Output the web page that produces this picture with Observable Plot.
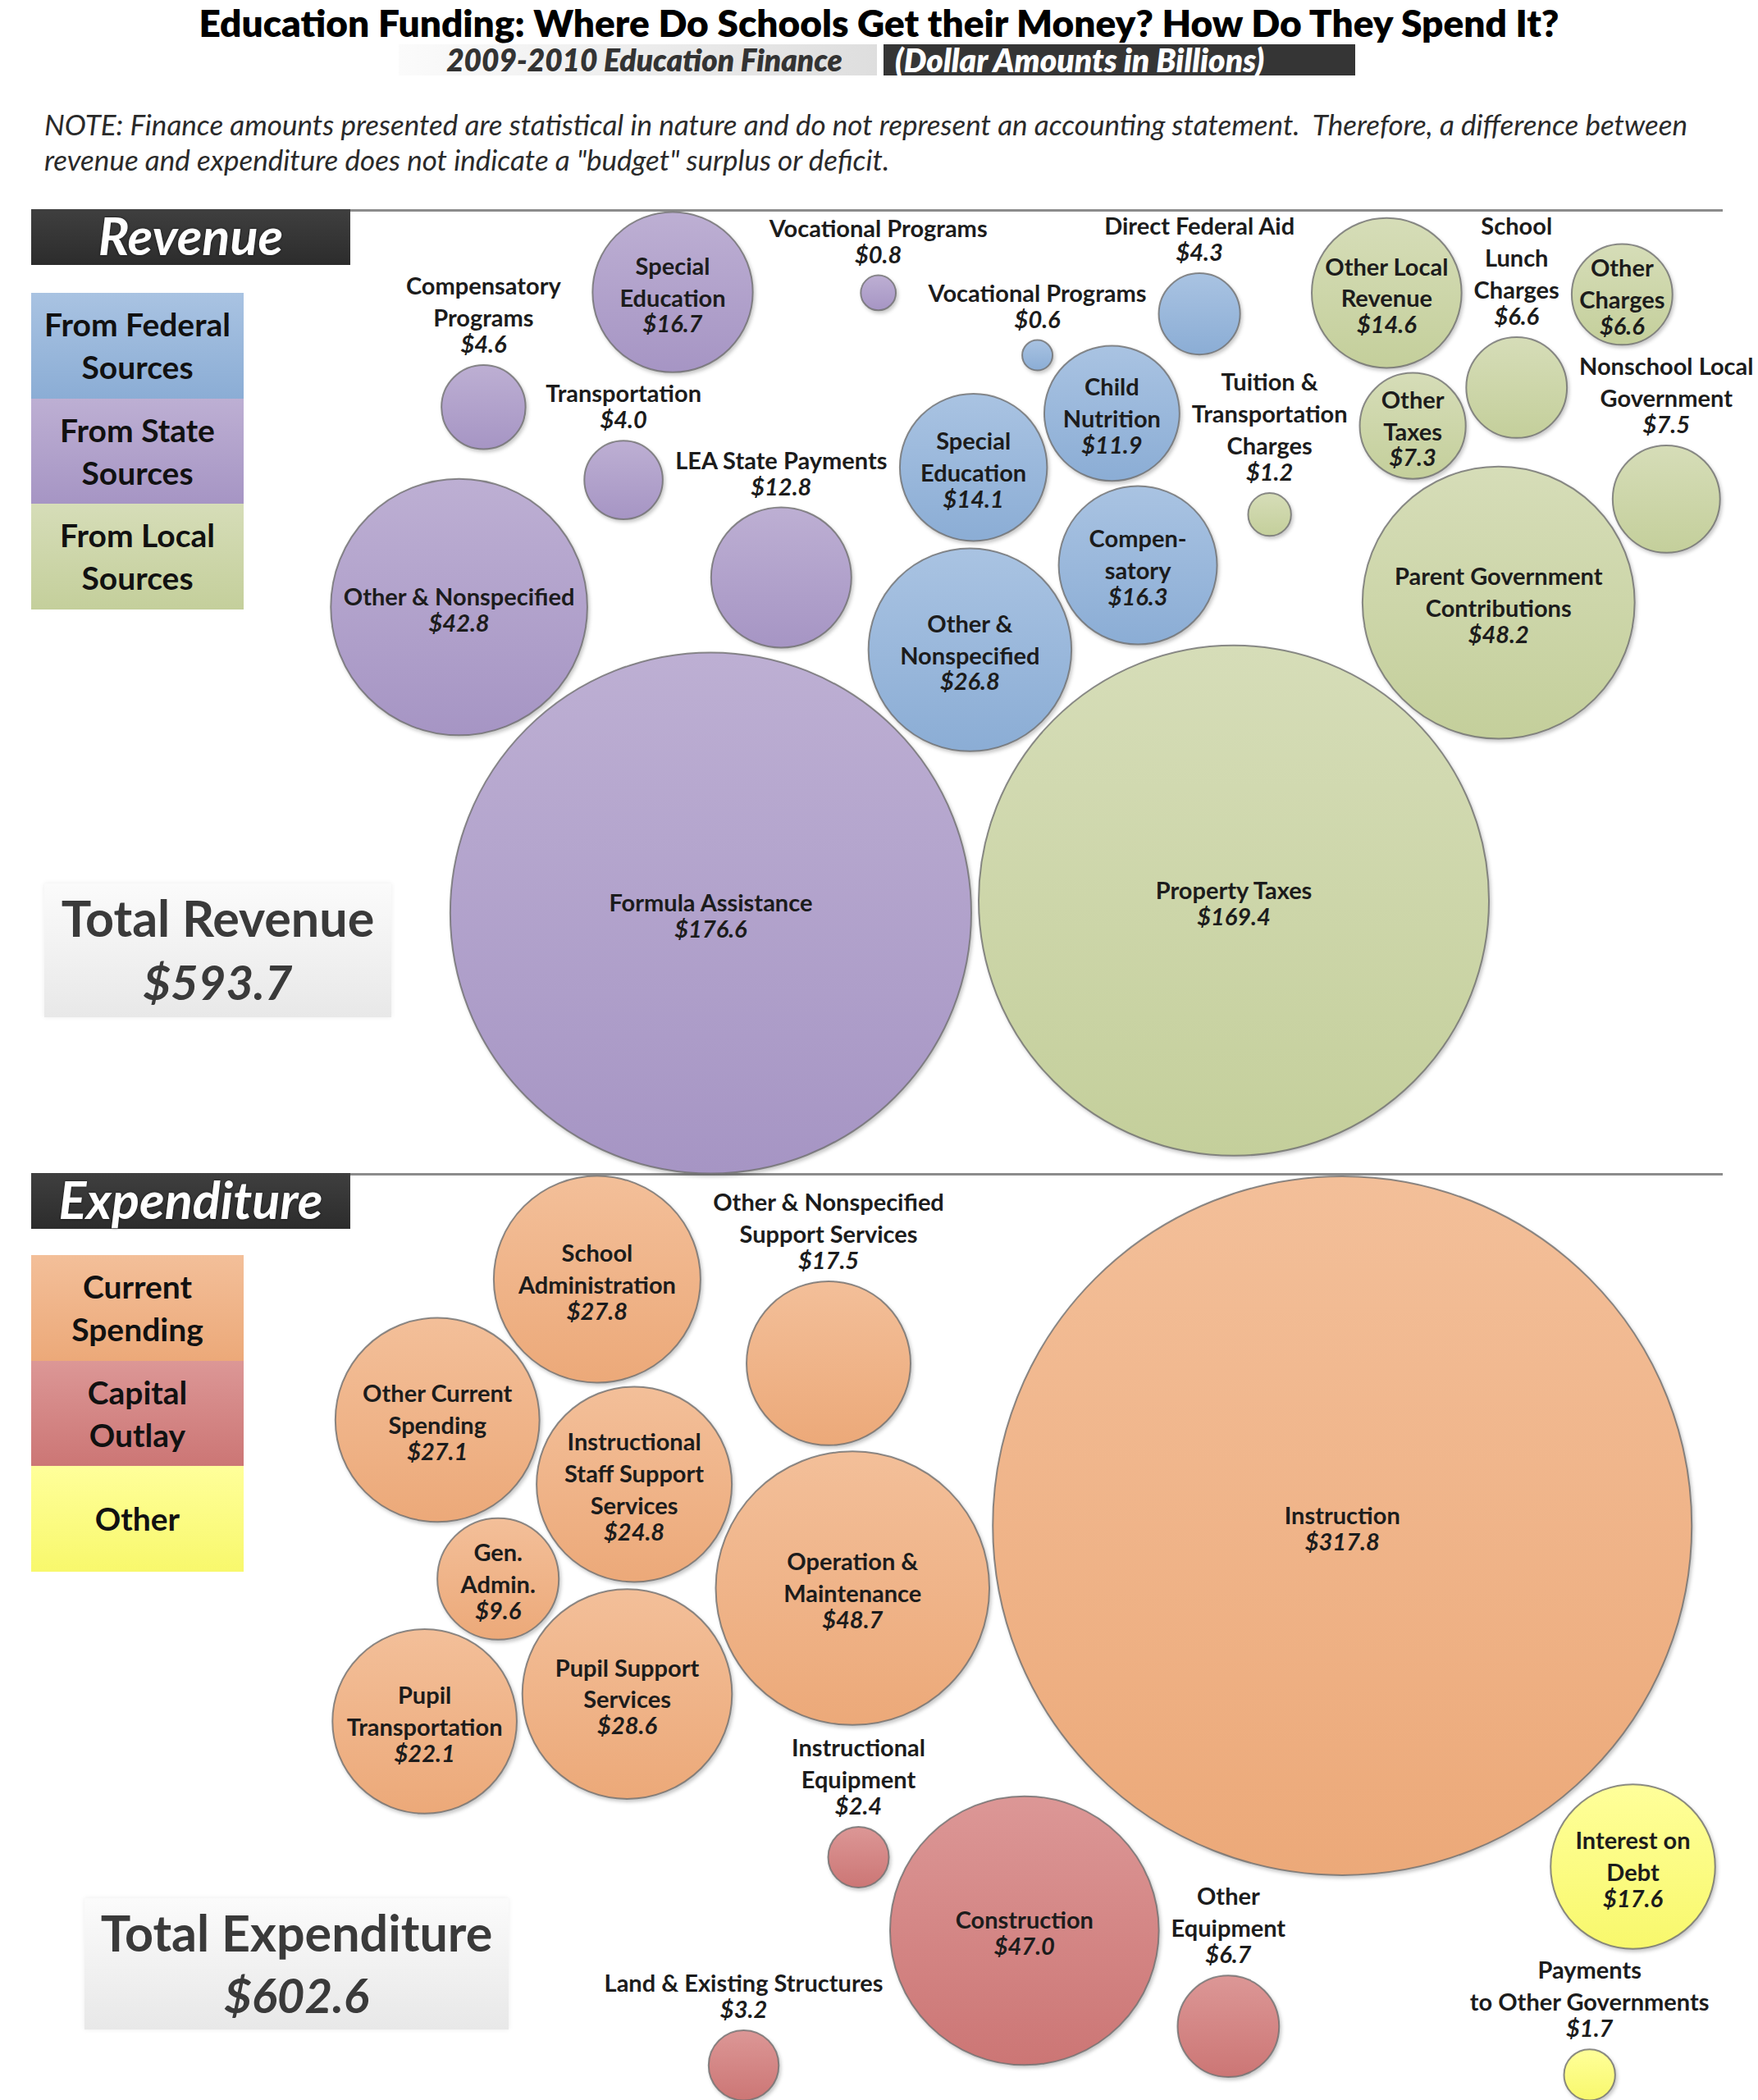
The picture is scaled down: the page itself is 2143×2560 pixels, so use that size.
<!DOCTYPE html>
<html><head><meta charset="utf-8">
<script src="https://cdn.jsdelivr.net/npm/d3@7"></script>
<script src="https://cdn.jsdelivr.net/npm/@observablehq/plot@0.6"></script>
<style>
body { margin:0; background:#fff; font-family: Lato, "Open Sans", sans-serif; }
#page { position:relative; width:2143px; height:2560px; overflow:hidden; background:#fff; }
.abs { position:absolute; }
#title { left:0; width:2143px; top:0px; text-align:center; font-weight:800; font-size:46px; color:#000; }
#sub1 { left:486px; top:54px; width:583px; height:38px; background:linear-gradient(to right,#fbfbfb,#dedede); color:#333; font-style:italic; font-weight:800; font-size:37px; line-height:38px; text-align:center; padding-left:16px; box-sizing:border-box; white-space:nowrap; }
#sub2 { left:1077px; top:54px; width:575px; height:38px; background:#353535; color:#fff; font-style:italic; font-weight:800; font-size:39px; line-height:38px; padding-left:14px; box-sizing:border-box; white-space:nowrap; }
#note { left:54px; top:130px; width:2080px; font-style:italic; font-size:35px; line-height:43px; color:#2a2a2a; white-space:nowrap; }
.rule { position:absolute; left:38px; width:2062px; height:3px; background:#8c8c8c; }
.hdr { position:absolute; left:38px; width:389px; height:68px; background:linear-gradient(#3f3f3f,#2c2c2c); color:#fff; font-style:italic; font-weight:bold; font-size:63px; line-height:64px; text-align:center; z-index:5; text-shadow:0 0 3px rgba(0,0,0,.7); }
.legend { position:absolute; left:38px; width:259px; z-index:5; }
.legend div { height:128.5px; display:flex; align-items:center; justify-content:center; text-align:center; font-weight:bold; font-size:39px; line-height:52px; color:#111; }
.total { position:absolute; z-index:5; background:linear-gradient(#fbfbfb,#e8e8e8); text-align:center; color:#3a3a3a; font-weight:bold; box-shadow:0 0 6px rgba(0,0,0,0.08); white-space:nowrap; }
.total .a { font-size:61px; }
.total .b { font-size:58px; font-style:italic; }
.sec { position:absolute; left:0; z-index:1; }
</style></head>
<body><div id="page">
<div id="title" class="abs">Education Funding: Where Do Schools Get their Money? How Do They Spend It?</div>
<div id="sub1" class="abs">2009-2010 Education Finance</div>
<div id="sub2" class="abs">(Dollar Amounts in Billions)</div>
<div id="note" class="abs">NOTE: Finance amounts presented are statistical in nature and do not represent an accounting statement.&nbsp; Therefore, a difference between<br>revenue and expenditure does not indicate a "budget" surplus or deficit.</div>
</div>
<script>
// ---------------- DATA ----------------
const revenueSourceNames = ["From Federal Sources", "From State Sources", "From Local Sources"];
const revenueNames = [
  "Formula Assistance", "Other & Nonspecified", "Special\nEducation", "LEA State Payments",
  "Compensatory\nPrograms", "Transportation", "Vocational Programs",
  "Other &\nNonspecified", "Compen-\nsatory", "Special\nEducation", "Child\nNutrition",
  "Direct Federal Aid", "Vocational Programs",
  "Property Taxes", "Parent Government\nContributions", "Other Local\nRevenue",
  "Nonschool Local\nGovernment", "Other\nTaxes", "Other\nCharges", "School\nLunch\nCharges",
  "Tuition &\nTransportation\nCharges"
];
const revenueValues = [176.6, 42.8, 16.7, 12.8, 4.6, 4.0, 0.8,
  26.8, 16.3, 14.1, 11.9, 4.3, 0.6,
  169.4, 48.2, 14.6, 7.5, 7.3, 6.6, 6.6, 1.2];
const revenueSources = [
  "From State Sources", "From State Sources", "From State Sources", "From State Sources",
  "From State Sources", "From State Sources", "From State Sources",
  "From Federal Sources", "From Federal Sources", "From Federal Sources", "From Federal Sources",
  "From Federal Sources", "From Federal Sources",
  "From Local Sources", "From Local Sources", "From Local Sources", "From Local Sources",
  "From Local Sources", "From Local Sources", "From Local Sources", "From Local Sources"
];

const expenditureTypeNames = ["Current Spending", "Capital Outlay", "Other"];
const expenditureNames = [
  "Instruction", "Operation &\nMaintenance", "Other Current\nSpending", "Pupil\nTransportation",
  "School\nAdministration", "Pupil Support\nServices", "Gen.\nAdmin.",
  "Other & Nonspecified\nSupport Services", "Instructional\nStaff Support\nServices",
  "Construction", "Land & Existing Structures", "Other\nEquipment", "Instructional\nEquipment",
  "Interest on\nDebt", "Payments\nto Other Governments"
];
const expenditureValues = [317.8, 48.7, 27.1, 22.1, 27.8, 28.6, 9.6, 17.5, 24.8,
  47.0, 3.2, 6.7, 2.4, 17.6, 1.7];
const expenditureTypes = [
  "Current Spending", "Current Spending", "Current Spending", "Current Spending",
  "Current Spending", "Current Spending", "Current Spending", "Current Spending", "Current Spending",
  "Capital Outlay", "Capital Outlay", "Capital Outlay", "Capital Outlay",
  "Other", "Other"
];

// ---------------- LAYOUT / STYLE ----------------
const W = 2143, FS = 29, LH = 39, GAP = 8, PAD = 9;
const FONT = "Lato, 'Open Sans', sans-serif";
const rOptions = {type: "sqrt", domain: [0, d3.max([...revenueValues, ...expenditureValues])], range: [0, 426]};
const rScale = Plot.scale({r: rOptions});
const ctx = document.createElement("canvas").getContext("2d");
function measure(s, italic) { ctx.font = `${italic ? "italic " : ""}bold ${FS}px Lato`; return ctx.measureText(s).width; }
const fmt = v => "$" + v.toFixed(1);

// shapes of a bubble: its circle, plus the label box above it when the label sits outside
function prims(n) {
  const a = [{t: "c", x: n.x, y: n.y, r: n.r}];
  if (!n.inside) a.push({t: "r", x0: n.x - n.w / 2 - 6, x1: n.x + n.w / 2 + 6, y0: n.y - n.r - GAP - n.h, y1: n.y - n.r - 2});
  return a;
}
function sepCC(p, q, pad) {
  let dx = q.x - p.x, dy = q.y - p.y, d = Math.hypot(dx, dy);
  const m = p.r + q.r + pad;
  if (d >= m) return null;
  if (d < 1e-6) { dx = 0.01; dy = 0.013; d = Math.hypot(dx, dy); }
  const s = (m - d) / d; return [dx * s, dy * s];
}
function sepCR(c, rc, pad) { // move box rc away from circle c
  const px = Math.max(rc.x0, Math.min(c.x, rc.x1)), py = Math.max(rc.y0, Math.min(c.y, rc.y1));
  let dx = px - c.x, dy = py - c.y, d = Math.hypot(dx, dy);
  const m = c.r + pad;
  if (d >= m) return null;
  if (d < 1e-6) {
    const opts = [[c.x + m - rc.x0, 0], [-(rc.x1 - (c.x - m)), 0], [0, c.y + m - rc.y0], [0, -(rc.y1 - (c.y - m))]];
    return opts.reduce((a, b) => Math.hypot(a[0], a[1]) <= Math.hypot(b[0], b[1]) ? a : b);
  }
  const s = (m - d) / d; return [dx * s, dy * s];
}
function sepRR(p, q, pad) {
  const ox = Math.min(p.x1, q.x1) - Math.max(p.x0, q.x0) + pad;
  const oy = Math.min(p.y1, q.y1) - Math.max(p.y0, q.y0) + pad;
  if (ox <= 0 || oy <= 0) return null;
  if (ox < oy) return [((q.x0 + q.x1) >= (p.x0 + p.x1) ? 1 : -1) * ox, 0];
  return [0, ((q.y0 + q.y1) >= (p.y0 + p.y1) ? 1 : -1) * oy];
}
function sep(p, q, pad) { // vector that moves q clear of p
  if (p.t === "c" && q.t === "c") return sepCC(p, q, pad);
  if (p.t === "c") return sepCR(p, q, pad);
  if (q.t === "c") { const v = sepCR(q, p, pad); return v && [-v[0], -v[1]]; }
  return sepRR(p, q, pad);
}
// collision of circles and label boxes, weighted by bubble area
function collideForce(pad, iters) {
  let nodes;
  function force() {
    for (let it = 0; it < iters; it++) {
      for (let i = 0; i < nodes.length; i++) {
        const a = nodes[i];
        for (let j = i + 1; j < nodes.length; j++) {
          const b = nodes[j];
          const ma = a.r * a.r, mb = b.r * b.r, wa = mb / (ma + mb), wb = ma / (ma + mb);
          for (let pi = 0; pi < (a.inside ? 1 : 2); pi++) {
            for (let qi = 0; qi < (b.inside ? 1 : 2); qi++) {
              const v = sep(prims(a)[pi], prims(b)[qi], pad);
              if (!v) continue;
              a.x -= v[0] * wa * 0.8; a.y -= v[1] * wa * 0.8;
              b.x += v[0] * wb * 0.8; b.y += v[1] * wb * 0.8;
            }
          }
        }
      }
    }
  }
  force.initialize = ns => nodes = ns;
  return force;
}
function bbox(n) {
  const ps = prims(n);
  return [d3.min(ps, p => p.t === "c" ? p.x - p.r : p.x0), d3.max(ps, p => p.t === "c" ? p.x + p.r : p.x1),
          d3.min(ps, p => p.t === "c" ? p.y - p.r : p.y0), d3.max(ps, p => p.t === "c" ? p.y + p.r : p.y1)];
}
// keeps bubbles and labels inside the section and off the HTML boxes
function boundsForce(Wd, H, rects) {
  let nodes;
  function force() {
    for (const n of nodes) {
      for (const b of rects) {
        const box = {t: "r", ...b};
        for (let pi = 0; pi < (n.inside ? 1 : 2); pi++) {
          const v = sep(box, prims(n)[pi], 4);
          if (v) { n.x += v[0]; n.y += v[1]; }
        }
      }
      const [bx0, bx1, by0, by1] = bbox(n);
      if (bx0 < 0) n.x -= bx0; else if (bx1 > Wd) n.x -= bx1 - Wd;
      if (by0 < 0) n.y -= by0; else if (by1 > H) n.y -= by1 - H;
    }
  }
  force.initialize = ns => nodes = ns;
  return force;
}
function blocked(n, nodes, rects, H) {
  const [bx0, bx1, by0, by1] = bbox(n);
  if (bx0 < -1 || bx1 > W + 1 || by0 < -1 || by1 > H + 1) return true;
  const pn = prims(n);
  for (const b of rects) for (const p of pn) if (sep({t: "r", ...b}, p, 1)) return true;
  for (const m of nodes) {
    if (m === n) continue;
    const pm = prims(m);
    for (const p of pm) for (const q of pn) if (sep(p, q, PAD - 3)) return true;
  }
  return false;
}

function buildSection(cfg) {
  const {id, names, values, groups, groupNames, colors, H, anchors, obstacles} = cfg;
  const nodes = names.map((name, i) => {
    const r = rScale.apply(values[i]);
    const val = fmt(values[i]);
    const lines = name.split("\n");
    const w = Math.max(...lines.map(l => measure(l, false)), measure(val, true));
    const h = lines.length * LH + 0.95 * FS;
    const inside = w <= 1.95 * r && h <= 1.9 * r;
    return {name, value: values[i], group: groups[i], val, nLines: lines.length, r, w, h, inside};
  });
  const gmax = d3.rollup(nodes, v => d3.max(v, d => d.r), d => d.group);
  nodes.forEach((n, i) => {
    const a = anchors[n.group];
    n.t = n.r / gmax.get(n.group);
    const t2 = n.t * n.t;
    n.tx = a.x + a.bx * t2;
    n.ty = a.y + a.by * t2;
    const ang = i * 2.39996, rad = 6 * Math.sqrt(i + 0.5);
    n.x = n.tx + rad * Math.cos(ang);
    n.y = n.ty + rad * Math.sin(ang);
  });
  const sim = d3.forceSimulation(nodes)
    .force("x", d3.forceX(d => d.tx).strength(d => 0.03 + 0.25 * d.t * d.t))
    .force("y", d3.forceY(d => d.ty).strength(d => 0.03 + 0.25 * d.t * d.t))
    .force("collide", collideForce(PAD, 3))
    .force("bounds", boundsForce(W, H, obstacles))
    .alphaDecay(0.012)
    .stop();
  for (let k = 0; k < 700; k++) sim.tick();
  sim.force("x", null).force("y", null).alpha(0.2);
  for (let k = 0; k < 80; k++) sim.tick();
  // any small bubble still tangled is moved to the nearest free spot
  for (const n of [...nodes].sort((a, b) => a.r - b.r)) {
    if (n.r > 140 || !blocked(n, nodes, obstacles, H)) continue;
    const x0 = n.x, y0 = n.y;
    let found = false;
    for (let rr = 4; rr < 1400 && !found; rr += 5) {
      const k = Math.max(12, Math.ceil(2 * Math.PI * rr / 8));
      for (let j = 0; j < k; j++) {
        const ang = 2 * Math.PI * j / k;
        n.x = x0 + rr * Math.cos(ang); n.y = y0 + rr * Math.sin(ang);
        if (!blocked(n, nodes, obstacles, H)) { found = true; break; }
      }
    }
    if (!found) { n.x = x0; n.y = y0; }
  }
  nodes.forEach(n => {
    n.cx = n.x; n.cy = n.y;
    const top = n.inside ? n.cy - (n.nLines * LH + 0.71 * FS) / 2 : n.cy - n.r - GAP - n.h;
    n.ny = top; n.vy = top + n.nLines * LH;
  });

  const svg = Plot.plot({
    width: W, height: H, margin: 0,
    x: {domain: [0, W], range: [0, W], axis: null},
    y: {domain: [0, H], range: [0, H], axis: null},
    r: rOptions,
    color: {domain: groupNames, range: groupNames.map((g, i) => `url(#${id}-g${i})`)},
    style: {fontFamily: FONT, background: "transparent", overflow: "visible"},
    marks: [
      Plot.dot(nodes, {x: "cx", y: "cy", r: "value", fill: "group", stroke: "#6f6f6f", strokeOpacity: 0.8, strokeWidth: 2}),
      Plot.text(nodes, {x: "cx", y: "ny", text: "name", lineAnchor: "top", lineHeight: LH / FS, fontSize: FS, fontWeight: "bold", fill: "#1c1c1c"}),
      Plot.text(nodes, {x: "cx", y: "vy", text: "val", lineAnchor: "top", fontSize: FS, fontWeight: "bold", fontStyle: "italic", fill: "#1c1c1c"})
    ]
  });
  const defs = d3.select(svg).insert("defs", ":first-child");
  colors.forEach((c, i) => {
    const lg = defs.append("linearGradient").attr("id", `${id}-g${i}`).attr("x1", 0).attr("y1", 0).attr("x2", 0).attr("y2", 1);
    lg.append("stop").attr("offset", "0%").attr("stop-color", c[0]);
    lg.append("stop").attr("offset", "100%").attr("stop-color", c[1]);
  });
  d3.select(svg).selectAll('g[aria-label="dot"]').style("filter", "drop-shadow(2px 3px 2px rgba(0,0,0,0.22))");
  return svg;
}

const page = document.getElementById("page");
function addEl(cls, style, html) {
  const d = document.createElement("div");
  d.className = cls; Object.assign(d.style, style); if (html != null) d.innerHTML = html;
  page.appendChild(d); return d;
}
function legendLabel(s) {
  const w = s.split(" ");
  return w.length > 1 ? w.slice(0, -1).join(" ") + "<br>" + w[w.length - 1] : s;
}

// ---- Revenue section ----
const revTop = 258, revH = 1172;
const revColors = [["#a9c3e2", "#8badd5"], ["#bdafd3", "#a695c4"], ["#d6ddb8", "#c4cf9b"]];
addEl("rule", {top: "255px"});
addEl("hdr", {top: "255px"}, "Revenue");
const revSvg = buildSection({
  id: "rev", names: revenueNames, values: revenueValues, groups: revenueSources,
  groupNames: revenueSourceNames, colors: revColors, H: revH,
  anchors: {
    "From Federal Sources": {x: 1440, y: 170, bx: -250, by: 300},
    "From State Sources": {x: 800, y: 300, bx: 60, by: 550},
    "From Local Sources": {x: 1820, y: 300, bx: -310, by: 530}
  },
  obstacles: [
    {x0: 38, x1: 427, y0: 0, y1: 66},
    {x0: 38, x1: 297, y0: 99, y1: 482},
    {x0: 54, x1: 477, y0: 819, y1: 982}
  ]
});
const revWrap = addEl("sec", {top: revTop + "px"}); revWrap.appendChild(revSvg);
const revLegend = addEl("legend", {top: "357px"});
revenueSourceNames.forEach((g, i) => {
  const d = document.createElement("div");
  d.style.background = `linear-gradient(${revColors[i][0]}, ${revColors[i][1]})`;
  d.innerHTML = legendLabel(g); revLegend.appendChild(d);
});
addEl("total", {left: "54px", top: "1077px", width: "423px", height: "163px"},
  `<div class="a" style="line-height:80px;padding-top:2px">Total Revenue</div><div class="b" style="line-height:76px">${fmt(d3.sum(revenueValues))}</div>`);

// ---- Expenditure section ----
const expTop = 1433, expH = 1127;
const expColors = [["#f3bf99", "#eca979"], ["#dc9796", "#cc7675"], ["#ffff9a", "#f8f86c"]];
addEl("rule", {top: "1430px"});
addEl("hdr", {top: "1430px"}, "Expenditure");
const expSvg = buildSection({
  id: "exp", names: expenditureNames, values: expenditureValues, groups: expenditureTypes,
  groupNames: expenditureTypeNames, colors: expColors, H: expH,
  anchors: {
    "Current Spending": {x: 760, y: 400, bx: 870, by: 30},
    "Capital Outlay": {x: 1560, y: 1030, bx: -310, by: -110},
    "Other": {x: 1830, y: 980, bx: 160, by: -130}
  },
  obstacles: [
    {x0: 38, x1: 427, y0: 0, y1: 67},
    {x0: 38, x1: 297, y0: 97, y1: 484},
    {x0: 103, x1: 620, y0: 881, y1: 1040}
  ]
});
const expWrap = addEl("sec", {top: expTop + "px"}); expWrap.appendChild(expSvg);
const expLegend = addEl("legend", {top: "1530px"});
expenditureTypeNames.forEach((g, i) => {
  const d = document.createElement("div");
  d.style.background = `linear-gradient(${expColors[i][0]}, ${expColors[i][1]})`;
  d.innerHTML = legendLabel(g); expLegend.appendChild(d);
});
addEl("total", {left: "103px", top: "2314px", width: "517px", height: "160px"},
  `<div class="a" style="line-height:80px;padding-top:2px">Total Expenditure</div><div class="b" style="line-height:72px">${fmt(d3.sum(expenditureValues))}</div>`);
</script>
</body></html>
